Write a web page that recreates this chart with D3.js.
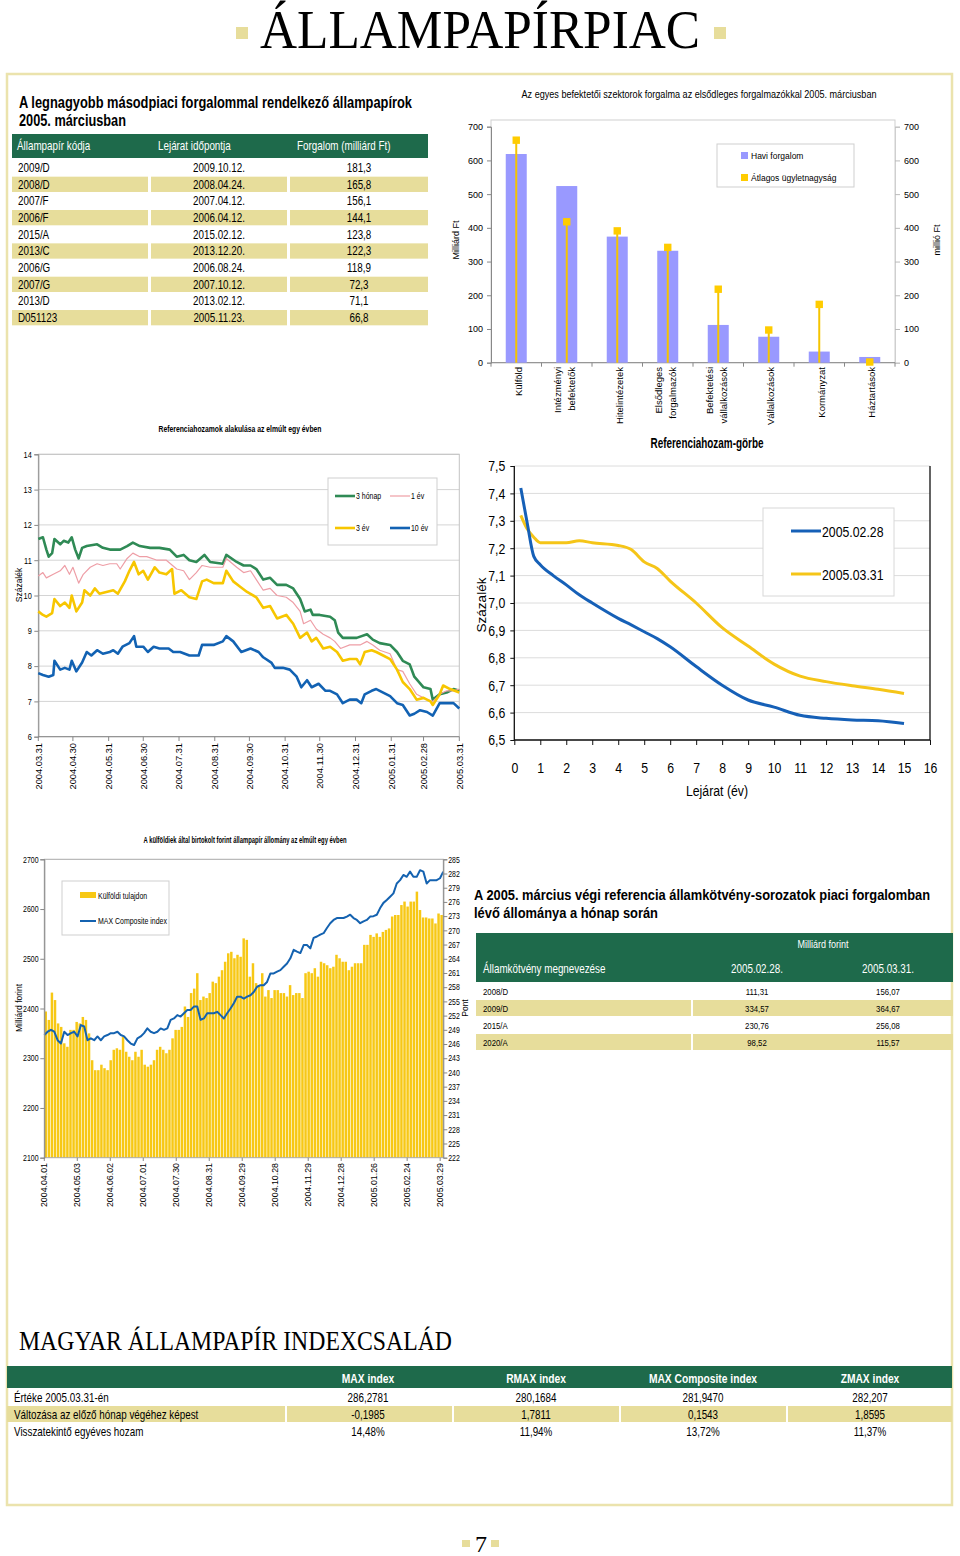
<!DOCTYPE html>
<html><head><meta charset="utf-8">
<script src="https://cdn.jsdelivr.net/npm/d3@7"></script>
<style>body{margin:0;background:#fff}svg{display:block}</style>
</head><body><svg id="c" width="960" height="1556"></svg>
<script>
// ---------------- DATA ----------------
const tableHeaders = ["Állampapír kódja", "Lejárat időpontja", "Forgalom (milliárd Ft)"];
const bondCodes = ["2009/D","2008/D","2007/F","2006/F","2015/A","2013/C","2006/G","2007/G","2013/D","D051123"];
const bondMaturity = ["2009.10.12.","2008.04.24.","2007.04.12.","2006.04.12.","2015.02.12.","2013.12.20.","2006.08.24.","2007.10.12.","2013.02.12.","2005.11.23."];
const bondTurnover = [181.3,165.8,156.1,144.1,123.8,122.3,118.9,72.3,71.1,66.8];

const sectors = [["Külföld"],["Intézményi","befektetők"],["Hitelintézetek"],["Elsődleges","forgalmazók"],["Befektetési","vállalkozások"],["Vállalkozások"],["Kormányzat"],["Háztartások"]];
const monthlyTurnover = [619,524,374,332,112,77,33,17];
const avgDealSize = [660,418,391,342,218,97,173,2];
const sectorTicks = [0,100,200,300,400,500,600,700];

const yieldTicks = [6,7,8,9,10,11,12,13,14];
const yieldDateLabels = ["2004.03.31","2004.04.30","2004.05.31","2004.06.30","2004.07.31","2004.08.31","2004.09.30","2004.10.31","2004.11.30","2004.12.31","2005.01.31","2005.02.28","2005.03.31"];
// [day offset from 2004.03.31, yield %]
const y3m = [[0,11.6],[4,11.65],[7,11.3],[9,11.1],[12,11.2],[14,11.6],[19,11.45],[22,11.55],[26,11.5],[29,11.65],[32,11.3],[35,11.05],[38,11.35],[42,11.4],[51,11.45],[56,11.35],[62,11.3],[71,11.3],[77,11.4],[82,11.5],[88,11.4],[97,11.35],[105,11.35],[114,11.3],[120,11.1],[126,11.15],[131,11.0],[137,10.95],[144,11.15],[149,10.95],[160,10.9],[163,11.15],[172,10.95],[178,10.85],[184,10.85],[189,10.75],[195,10.45],[201,10.5],[207,10.3],[215,10.3],[221,10.2],[227,9.9],[231,9.55],[236,9.6],[238,9.45],[244,9.45],[253,9.4],[257,9.3],[260,8.95],[264,8.8],[276,8.8],[285,8.9],[290,8.75],[296,8.65],[305,8.6],[311,8.4],[316,8.15],[322,8.05],[326,7.7],[334,7.4],[340,7.35],[342,7.05],[348,7.2],[354,7.25],[360,7.35],[365,7.3]];
const y1y = [[0,10.55],[4,10.65],[7,10.5],[13,10.6],[19,10.7],[23,10.85],[27,10.6],[30,10.8],[35,10.35],[39,10.6],[45,10.8],[51,10.9],[56,10.85],[62,10.9],[68,10.9],[71,10.75],[77,11.05],[82,11.2],[88,11.1],[94,11.1],[103,11.0],[111,11.0],[120,10.75],[126,10.7],[131,10.45],[137,10.65],[142,10.85],[149,10.8],[160,10.8],[163,11.05],[172,10.8],[178,10.65],[184,10.7],[189,10.45],[195,10.15],[201,10.2],[207,10.0],[215,9.95],[221,9.8],[227,9.55],[230,9.2],[236,9.3],[241,9.05],[247,8.9],[253,8.8],[257,8.7],[262,8.5],[270,8.6],[279,8.6],[285,8.7],[290,8.6],[296,8.45],[305,8.35],[311,7.9],[316,7.85],[322,7.5],[328,7.2],[337,7.05],[342,7.0],[348,7.2],[354,7.3],[360,7.3],[365,7.35]];
const y3y = [[0,9.55],[4,9.45],[7,9.4],[12,9.5],[14,9.9],[19,9.7],[23,9.8],[27,9.65],[29,10.0],[33,9.55],[38,9.8],[40,10.15],[45,10.0],[49,10.2],[53,10.05],[59,10.1],[65,10.15],[69,10.05],[75,10.4],[79,10.7],[83,10.95],[87,10.6],[91,10.7],[95,10.45],[101,10.8],[105,10.65],[111,10.6],[116,10.75],[118,10.05],[124,10.15],[131,9.95],[137,9.9],[142,10.4],[146,10.45],[152,10.35],[160,10.35],[163,10.7],[169,10.4],[175,10.25],[181,10.1],[189,9.95],[195,9.65],[201,9.7],[207,9.35],[215,9.45],[221,9.2],[227,8.8],[233,8.95],[237,8.7],[241,8.8],[247,8.5],[253,8.55],[259,8.4],[264,8.15],[270,8.2],[276,8.2],[279,8.05],[283,8.4],[289,8.45],[293,8.4],[299,8.3],[305,8.2],[311,7.9],[316,7.55],[322,7.35],[328,7.05],[334,7.1],[340,7.0],[342,6.9],[348,7.2],[351,7.45],[357,7.35],[365,7.25]];
const y10y = [[0,7.8],[4,7.75],[9,7.7],[13,7.75],[14,8.15],[19,7.9],[23,7.95],[27,7.9],[29,8.15],[33,7.85],[38,8.1],[42,8.4],[46,8.3],[51,8.45],[56,8.35],[62,8.4],[65,8.45],[69,8.35],[73,8.55],[79,8.65],[83,8.85],[85,8.55],[91,8.55],[95,8.4],[100,8.55],[105,8.5],[113,8.5],[117,8.4],[123,8.4],[131,8.3],[139,8.3],[142,8.6],[146,8.6],[152,8.6],[160,8.7],[163,8.85],[169,8.7],[176,8.4],[184,8.5],[191,8.4],[195,8.25],[202,8.1],[205,7.95],[212,7.95],[218,7.9],[224,7.7],[228,7.4],[233,7.6],[237,7.4],[243,7.5],[249,7.3],[253,7.3],[259,7.2],[264,6.95],[270,7.05],[276,7.05],[280,6.95],[283,7.2],[289,7.3],[293,7.35],[299,7.25],[305,7.15],[311,6.95],[316,6.9],[322,6.6],[326,6.65],[331,6.75],[337,6.7],[342,6.6],[348,6.95],[354,6.95],[360,6.95],[365,6.8]];

const curveMaturity = [0.25,0.5,0.75,1,1.5,2,2.5,3,4,4.5,5,5.5,6,7,8,9,10,11,12,13,14,15];
const curveFeb = [7.42,7.29,7.17,7.14,7.10,7.066,7.03,7.0,6.944,6.92,6.895,6.87,6.84,6.768,6.70,6.646,6.62,6.59,6.579,6.573,6.57,6.56];
const curveMar = [7.32,7.27,7.24,7.22,7.22,7.22,7.227,7.22,7.21,7.195,7.15,7.126,7.08,7.0,6.91,6.843,6.777,6.733,6.713,6.698,6.685,6.67];
const curveYTicks = [6.5,6.6,6.7,6.8,6.9,7.0,7.1,7.2,7.3,7.4,7.5];
const curveXTicks = [0,1,2,3,4,5,6,7,8,9,10,11,12,13,14,15,16];

const holdDateLabels = ["2004.04.01","2004.05.03","2004.06.02","2004.07.01","2004.07.30","2004.08.31","2004.09.29","2004.10.28","2004.11.29","2004.12.28","2005.01.26","2005.02.24","2005.03.29"];
const foreignHoldings = [2394,2377,2432,2417,2370,2363,2330,2323,2357,2357,2373,2370,2383,2377,2350,2296,2276,2276,2287,2280,2276,2296,2317,2320,2317,2343,2313,2303,2296,2313,2303,2317,2287,2283,2287,2296,2317,2323,2317,2310,2317,2340,2357,2357,2363,2404,2383,2431,2440,2471,2417,2424,2421,2431,2454,2451,2464,2477,2494,2511,2514,2501,2508,2504,2541,2538,2464,2491,2451,2444,2471,2424,2437,2421,2437,2437,2431,2431,2424,2447,2427,2431,2431,2421,2471,2474,2471,2481,2464,2494,2491,2487,2481,2484,2508,2501,2494,2494,2477,2484,2491,2491,2491,2528,2528,2548,2544,2551,2544,2554,2558,2561,2585,2588,2588,2608,2615,2605,2615,2615,2635,2598,2583,2583,2581,2581,2571,2591,2588];
const maxComposite = [247.9,248.6,249.0,248.6,246.8,246.1,248.6,247.9,248.3,248.6,247.6,250.0,249.7,246.8,247.2,246.8,247.6,246.8,247.6,247.9,248.3,248.3,248.6,247.9,247.6,246.8,246.1,245.8,247.2,247.6,248.3,249.3,248.6,248.3,248.6,249.3,249.0,249.3,251.1,251.4,252.1,251.8,252.5,253.2,253.2,253.9,253.9,251.1,251.4,252.5,252.5,252.5,252.8,252.1,251.4,252.5,253.5,254.6,256.0,256.0,255.6,256.0,256.3,257.0,258.1,258.4,258.4,259.1,260.9,260.9,261.3,261.6,262.3,263.0,264.1,265.9,265.5,265.2,266.9,266.9,266.2,268.4,268.7,269.1,269.4,270.5,271.5,272.2,272.6,272.6,272.6,272.9,273.3,272.6,272.2,271.5,271.9,272.2,272.9,273.0,273.3,274.7,275.8,276.4,277.1,277.8,279.9,280.6,281.7,281.3,282.4,281.3,281.3,282.7,282.4,279.9,280.6,280.6,280.6,281.0,282.4];
const holdLeftTicks = [2100,2200,2300,2400,2500,2600,2700];
const holdRightTicks = d3.range(222, 286, 3);

const refBonds = ["2008/D","2009/D","2015/A","2020/A"];
const refFeb = [111.31,334.57,230.76,98.52];
const refMar = [156.07,364.67,256.08,115.57];

const indexNames = ["MAX index","RMAX index","MAX Composite index","ZMAX index"];
const indexRowLabels = ["Értéke 2005.03.31-én","Változása az előző hónap végéhez képest","Visszatekintő egyéves hozam"];
const indexValues = [["286,2781","280,1684","281,9470","282,207"],["-0,1985","1,7811","0,1543","1,8595"],["14,48%","11,94%","13,72%","11,37%"]];

// ---------------- SETUP ----------------
const NARROW = "'Liberation Sans Narrow','Arial Narrow',sans-serif";
const SANS = "'Liberation Sans',Arial,sans-serif";
const SERIF = "'Liberation Serif','Times New Roman',serif";
const GREEN = "#1e6a4b", KHAKI = "#e7dd9b", FRAME = "#ebe3ad";
const svg = d3.select("#c");
svg.append("rect").attr("width",960).attr("height",1556).attr("fill","#fff");
const loc = d3.formatLocale({decimal:",", thousands:" ", grouping:[3], currency:["",""]});
const f1 = loc.format(".1f"), f2 = loc.format(".2f");

function probe(fam){const t=svg.append("text").attr("font-family",fam).attr("font-size",100).text("MMMMMMMMMM");const w=t.node().getComputedTextLength();t.remove();return w;}
const hasNarrow = probe("'Liberation Sans Narrow'") < probe("'Liberation Sans'")*0.9;

function T(p, x, y, s, o={}) {
  const narrow = !!o.narrow;
  const sx = (narrow && !hasNarrow) ? 0.82 : 1;
  const t = p.append("text").text(s)
    .attr("font-family", o.family || (narrow ? NARROW : SANS))
    .attr("font-size", o.size || 10)
    .attr("fill", o.fill || "#000")
    .attr("text-anchor", o.anchor || "start");
  if (o.weight) t.attr("font-weight", o.weight);
  let tr = `translate(${x},${y})`;
  if (o.rotate) tr += ` rotate(${o.rotate})`;
  if (sx !== 1) tr += ` scale(${sx},1)`;
  t.attr("transform", tr);
  if (o.len) t.attr("textLength", o.len / sx).attr("lengthAdjust", "spacingAndGlyphs");
  return t;
}
function R(p, x, y, w, h, fill, stroke, sw) {
  return p.append("rect").attr("x",x).attr("y",y).attr("width",w).attr("height",h)
    .attr("fill",fill||"none").attr("stroke",stroke||"none").attr("stroke-width",sw||1);
}
function styleAxis(g, o) {
  g.attr("font-family", o.narrow ? NARROW : SANS).attr("font-size", o.size);
  g.selectAll("text").attr("fill","#000");
  if (o.narrow && !hasNarrow) g.selectAll("text").attr("transform", "scale(0.82,1)");
  g.selectAll(".tick line").attr("stroke", o.tick || "#888");
  if (o.noDomain) g.select(".domain").remove(); else g.select(".domain").attr("stroke", o.domain || "#888");
}

// ---------------- PAGE HEADER & FRAME ----------------
T(svg, 480, 48, "ÁLLAMPAPÍRPIAC", {family:SERIF, size:54, anchor:"middle", len:440});
R(svg, 236, 27, 12, 12, KHAKI);
R(svg, 714, 27, 12, 12, KHAKI);
R(svg, 7, 74, 945, 1431, null, FRAME, 2.5);

// ---------------- LEFT TABLE ----------------
T(svg, 19, 108, "A legnagyobb másodpiaci forgalommal rendelkező állampapírok", {size:16, weight:"bold", narrow:true, len:393});
T(svg, 19, 126, "2005. márciusban", {size:16, weight:"bold", narrow:true, len:107});
R(svg, 12, 134, 416, 24, GREEN);
const tColX = [12,151,290], tColW = [136,136,138];
T(svg, 17, 150, tableHeaders[0], {size:12, narrow:true, fill:"#fff"});
T(svg, 158, 150, tableHeaders[1], {size:12, narrow:true, fill:"#fff"});
T(svg, 297, 150, tableHeaders[2], {size:12, narrow:true, fill:"#fff"});
bondCodes.forEach((c,i) => {
  const y0 = 160 + i*16.67;
  if (i % 2 === 1) tColX.forEach((cx,k) => R(svg, cx, y0, tColW[k], 15.3, KHAKI));
  T(svg, 18, y0+12, c, {size:12, narrow:true});
  T(svg, 219, y0+12, bondMaturity[i], {size:12, narrow:true, anchor:"middle"});
  T(svg, 359, y0+12, f1(bondTurnover[i]), {size:12, narrow:true, anchor:"middle"});
});

// ---------------- SECTOR BAR CHART ----------------
{
  const x0 = 491, x1 = 895, yTop = 120, yBot = 362.7;
  const y = d3.scaleLinear().domain([0,700]).range([yBot,126.7]);
  const y2 = d3.scaleLinear().domain([0,700]).range([yBot,126.7]);
  const x = d3.scaleBand().domain(d3.range(sectors.length)).range([x0,x1]);
  T(svg, 699, 98, "Az egyes befektetői szektorok forgalma az elsődleges forgalmazókkal 2005. márciusban", {size:10, anchor:"middle", len:355});
  R(svg, x0, yTop, x1-x0, yBot-yTop, null, "#cfcfcf");
  const gl = svg.append("g").attr("transform",`translate(${x0},0)`).call(d3.axisLeft(y).tickValues(sectorTicks).tickSize(4).tickPadding(4).tickFormat(d3.format("d")));
  styleAxis(gl, {size:9});
  const gr = svg.append("g").attr("transform",`translate(${x1},0)`).call(d3.axisRight(y2).tickValues(sectorTicks).tickSize(5).tickPadding(4).tickFormat(d3.format("d")));
  styleAxis(gr, {size:9, domain:"#cfcfcf", tick:"#bbb"});
  svg.append("line").attr("x1",x0).attr("x2",x1).attr("y1",yBot).attr("y2",yBot).attr("stroke","#888");
  d3.range(sectors.length+1).forEach(i => {
    const xx = x0 + i*x.step();
    svg.append("line").attr("x1",xx).attr("x2",xx).attr("y1",yBot).attr("y2",yBot+4).attr("stroke","#888");
  });
  monthlyTurnover.forEach((v,i) => {
    const cx = x(i) + x.bandwidth()/2;
    R(svg, cx-10.5, y(v), 21, yBot - y(v), "#9999ff");
  });
  avgDealSize.forEach((v,i) => {
    const cx = x(i) + x.bandwidth()/2;
    svg.append("line").attr("x1",cx).attr("x2",cx).attr("y1",y2(v)).attr("y2",yBot).attr("stroke","#f5c400").attr("stroke-width",2);
    R(svg, cx-3.7, y2(v)-3.7, 7.4, 7.4, "#ffcc00");
  });
  sectors.forEach((lines,i) => {
    const cx = x(i) + x.bandwidth()/2;
    const offs = lines.length === 1 ? [2] : [-9, 5];
    lines.forEach((s,k) => T(svg, cx + offs[k] + 3.3, 367, s, {size:9.5, rotate:-90, anchor:"end"}));
  });
  T(svg, 459, 240, "Milliárd Ft", {size:9, rotate:-90, anchor:"middle"});
  T(svg, 940, 240, "millió Ft", {size:9, rotate:-90, anchor:"middle"});
  R(svg, 717, 144, 137, 43, "#fff", "#cfcfcf");
  R(svg, 741, 152, 7, 7, "#9999ff");
  T(svg, 751, 159, "Havi forgalom", {size:8.5});
  R(svg, 741, 174, 7, 7, "#ffcc00");
  T(svg, 751, 181, "Átlagos ügyletnagyság", {size:8.5});
}

// ---------------- REFERENCE YIELDS CHART ----------------
{
  const parse = d3.timeParse("%Y.%m.%d");
  const start = parse("2004.03.31"), end = parse("2005.03.31");
  const x = d3.scaleTime().domain([start,end]).range([38.3,459.3]);
  const y = d3.scaleLinear().domain([6,14]).range([736.7,454.3]);
  const dd = d => new Date(start.getTime() + d*864e5);
  T(svg, 240, 432, "Referenciahozamok alakulása az elmúlt egy évben", {size:9, weight:"bold", narrow:true, anchor:"middle", len:163});
  yieldTicks.forEach(t => { if (t>6) svg.append("line").attr("x1",38.3).attr("x2",459.3).attr("y1",y(t)).attr("y2",y(t)).attr("stroke","#d4d4d4"); });
  R(svg, 38.3, 454.3, 421, 282.4, null, "#c4c4c4");
  const gl = svg.append("g").attr("transform","translate(38.3,0)").call(d3.axisLeft(y).tickValues(yieldTicks).tickSize(4).tickPadding(4).tickFormat(d3.format("d")));
  styleAxis(gl, {size:9, narrow:true});
  svg.append("line").attr("x1",38.3).attr("x2",459.3).attr("y1",736.7).attr("y2",736.7).attr("stroke","#888");
  yieldDateLabels.forEach(s => {
    const xx = x(parse(s));
    svg.append("line").attr("x1",xx).attr("x2",xx).attr("y1",736.7).attr("y2",741).attr("stroke","#888");
    T(svg, xx+3.3, 743, s, {size:9.3, rotate:-90, anchor:"end"});
  });
  T(svg, 22, 585, "Százalék", {size:8.5, rotate:-90, anchor:"middle"});
  const line = d3.line().x(d => x(dd(d[0]))).y(d => y(d[1]));
  const series = [[y3m,"#2f8a55",2.6],[y1y,"#ee9ea6",1.2],[y3y,"#f7c600",2.6],[y10y,"#1262b3",2.6]];
  series.forEach(([data,col,w]) => svg.append("path").attr("d",line(data)).attr("fill","none").attr("stroke",col).attr("stroke-width",w).attr("stroke-linejoin","round"));
  R(svg, 328, 478, 109, 67, "#fff", "#cfcfcf");
  const leg = [["3 hónap","#2f8a55",2.6,335,496],["1 év","#ee9ea6",1.2,390,496],["3 év","#f7c600",2.6,335,528],["10 év","#1262b3",2.6,390,528]];
  leg.forEach(([s,c,w,lx,ly]) => {
    svg.append("line").attr("x1",lx).attr("x2",lx+20).attr("y1",ly).attr("y2",ly).attr("stroke",c).attr("stroke-width",w);
    T(svg, lx+21, ly+3, s, {size:8.5, narrow:true});
  });
}

// ---------------- YIELD CURVE ----------------
{
  const x = d3.scaleLinear().domain([0,16]).range([514.3,930]);
  const y = d3.scaleLinear().domain([6.5,7.5]).range([740,466]);
  T(svg, 707, 448, "Referenciahozam-görbe", {size:15, weight:"bold", narrow:true, anchor:"middle", len:113});
  curveYTicks.forEach(t => svg.append("line").attr("x1",514.3).attr("x2",930).attr("y1",y(t)).attr("y2",y(t)).attr("stroke","#dcdcdc"));
  svg.append("path").attr("d",`M514.3,466V740H930V466`).attr("fill","none").attr("stroke","#111").attr("stroke-width",1.3);
  const fmt = loc.format(".1f");
  const gl = svg.append("g").attr("transform","translate(514.3,0)").call(d3.axisLeft(y).tickValues(curveYTicks).tickSize(4).tickPadding(7).tickFormat(fmt));
  styleAxis(gl, {size:15, narrow:true, tick:"#111", noDomain:true});
  const gb = svg.append("g").attr("transform","translate(0,740)").call(d3.axisBottom(x).tickValues(curveXTicks).tickSize(5).tickPadding(17).tickFormat(d3.format("d")));
  styleAxis(gb, {size:15, narrow:true, tick:"#111", noDomain:true});
  T(svg, 717, 796, "Lejárat (év)", {size:15, narrow:true, anchor:"middle"});
  T(svg, 486, 605, "Százalék", {size:13.5, rotate:-90, anchor:"middle"});
  const mk = vals => d3.line().curve(d3.curveMonotoneX).x((d,i) => x(curveMaturity[i])).y(d => y(d))(vals);
  svg.append("path").attr("d",mk(curveMar)).attr("fill","none").attr("stroke","#f5c518").attr("stroke-width",3);
  svg.append("path").attr("d",mk(curveFeb)).attr("fill","none").attr("stroke","#1660b7").attr("stroke-width",3);
  R(svg, 763, 508, 131, 88, "#fff", "#d8d8d8");
  svg.append("line").attr("x1",791).attr("x2",821).attr("y1",531).attr("y2",531).attr("stroke","#1660b7").attr("stroke-width",3);
  T(svg, 822, 537, "2005.02.28", {size:15, narrow:true});
  svg.append("line").attr("x1",791).attr("x2",821).attr("y1",574).attr("y2",574).attr("stroke","#f5c518").attr("stroke-width",3);
  T(svg, 822, 580, "2005.03.31", {size:15, narrow:true});
}

// ---------------- FOREIGN HOLDINGS CHART ----------------
{
  const xd = d3.scaleLinear().domain([0,254]).range([44.3,443.3]);
  const y = d3.scaleLinear().domain([2100,2700]).range([1157.7,859.3]);
  const yr = d3.scaleLinear().domain([222,285]).range([1157.7,859.3]);
  T(svg, 245, 843, "A külföldiek által birtokolt forint állampapír állomány az elmúlt egy évben", {size:9, weight:"bold", narrow:true, anchor:"middle", len:203});
  const n = foreignHoldings.length, step = 254/n;
  foreignHoldings.forEach((v,j) => {
    const xa = xd(j*step), xb = xd((j+1)*step);
    R(svg, xa+0.2, y(v), (xb-xa)*0.8, 1157.7 - y(v), "#f7c815");
  });
  const m = maxComposite.length;
  svg.append("path").attr("d", d3.line().x((d,i) => xd(i*254/(m-1))).y(d => yr(d))(maxComposite))
    .attr("fill","none").attr("stroke","#1462b0").attr("stroke-width",2).attr("stroke-linejoin","round");
  R(svg, 44.3, 859.3, 399, 298.4, null, "#a9a9a9");
  const gl = svg.append("g").attr("transform","translate(44.3,0)").call(d3.axisLeft(y).tickValues(holdLeftTicks).tickSize(4).tickPadding(3).tickFormat(d3.format("d")));
  styleAxis(gl, {size:8.5, narrow:true});
  const gr = svg.append("g").attr("transform","translate(443.3,0)").call(d3.axisRight(yr).tickValues(holdRightTicks).tickSize(4).tickPadding(2).tickFormat(d3.format("d")));
  styleAxis(gr, {size:8.5, narrow:true});
  holdDateLabels.forEach((s,i) => {
    const xx = xd(i*21);
    svg.append("line").attr("x1",xx).attr("x2",xx).attr("y1",1157.7).attr("y2",1161).attr("stroke","#888");
    T(svg, xx+3, 1163, s, {size:8.8, rotate:-90, anchor:"end"});
  });
  T(svg, 22, 1008, "Milliárd forint", {size:8.5, rotate:-90, anchor:"middle"});
  T(svg, 468, 1008, "Pont", {size:8.5, rotate:-90, anchor:"middle"});
  R(svg, 62, 881, 107, 54, "#fff", "#cfcfcf");
  R(svg, 80, 892, 16, 6, "#f7c815");
  T(svg, 98, 899, "Külföldi tulajdon", {size:8.5, narrow:true});
  svg.append("line").attr("x1",80).attr("x2",96).attr("y1",921).attr("y2",921).attr("stroke","#1462b0").attr("stroke-width",2);
  T(svg, 98, 924, "MAX Composite index", {size:8.5, narrow:true});
}

// ---------------- REFERENCE BOND TABLE ----------------
T(svg, 474, 900, "A 2005. március végi referencia államkötvény-sorozatok piaci forgalomban", {size:15, weight:"bold", narrow:true, len:456});
T(svg, 474, 918, "lévő állománya a hónap során", {size:15, weight:"bold", narrow:true, len:184});
R(svg, 476, 933, 477, 49, GREEN);
T(svg, 823, 948, "Milliárd forint", {size:11, narrow:true, fill:"#fff", anchor:"middle"});
T(svg, 483, 973, "Államkötvény megnevezése", {size:12, narrow:true, fill:"#fff"});
T(svg, 757, 973, "2005.02.28.", {size:12, narrow:true, fill:"#fff", anchor:"middle"});
T(svg, 888, 973, "2005.03.31.", {size:12, narrow:true, fill:"#fff", anchor:"middle"});
refBonds.forEach((b,i) => {
  const y0 = 983 + i*17;
  if (i % 2 === 1) { R(svg, 476, y0, 215, 16, KHAKI); R(svg, 693, y0, 260, 16, KHAKI); }
  T(svg, 483, y0+12, b, {size:9.5, narrow:true});
  T(svg, 757, y0+12, f2(refFeb[i]), {size:9.5, narrow:true, anchor:"middle"});
  T(svg, 888, y0+12, f2(refMar[i]), {size:9.5, narrow:true, anchor:"middle"});
});

// ---------------- INDEX FAMILY TABLE ----------------
T(svg, 19, 1350, "MAGYAR ÁLLAMPAPÍR INDEXCSALÁD", {family:SERIF, size:27, len:433});
R(svg, 7, 1366, 945, 22, GREEN);
const idxCenters = [368,536,703,870], idxColX = [7,287,454,621,788], idxColW = [278,165,165,165,164];
indexNames.forEach((s,k) => T(svg, idxCenters[k], 1383, s, {size:12.5, weight:"bold", narrow:true, fill:"#fff", anchor:"middle"}));
indexRowLabels.forEach((lab,r) => {
  const y0 = 1389 + r*17;
  if (r === 1) idxColX.forEach((cx,k) => R(svg, cx, y0, idxColW[k], 16, KHAKI));
  T(svg, 14, y0+12.5, lab, {size:12, narrow:true});
  indexValues[r].forEach((v,k) => T(svg, idxCenters[k], y0+12.5, v, {size:12, narrow:true, anchor:"middle"}));
});

// ---------------- PAGE NUMBER ----------------
R(svg, 462, 1540, 8, 7, KHAKI);
R(svg, 491, 1540, 8, 7, KHAKI);
T(svg, 481, 1552, "7", {family:SERIF, size:24, anchor:"middle"});
</script></body></html>
